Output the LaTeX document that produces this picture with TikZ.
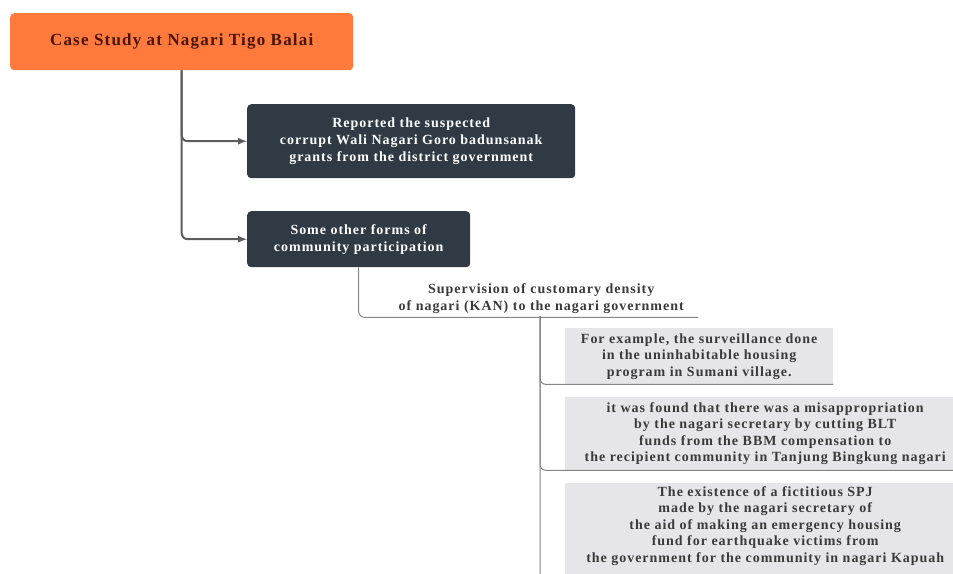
\documentclass[tikz,border=0pt]{standalone}
\usepackage{fontspec}
\setmainfont{Liberation Serif}[LetterSpace=7]
\usetikzlibrary{positioning}
\definecolor{rootorange}{HTML}{FF7A3C}
\definecolor{rootink}{HTML}{4A1400}
\definecolor{slatebox}{HTML}{2F3A44}
\definecolor{palefill}{HTML}{E6E6EA}
\definecolor{linkgray}{HTML}{5C5C5C}
\definecolor{textgray}{HTML}{3A3A3A}

\begin{document}
\begin{tikzpicture}[x=1pt,y=-1pt,
	rootbox/.style={fill=rootorange, rounded corners=4pt, anchor=north west, text=rootink, font=\bfseries\fontsize{17}{19}\selectfont},
	darkbox/.style={fill=slatebox, rounded corners=4pt, anchor=north west, text=white, align=center, font=\bfseries\fontsize{14}{17}\selectfont},
	palebox/.style={fill=palefill, anchor=north west, text=textgray, align=center, font=\bfseries\fontsize{14}{16.5}\selectfont},
	link/.style={draw=linkgray, line width=2pt, rounded corners=6pt},
	thinlink/.style={draw=linkgray!75, line width=1pt, rounded corners=6pt},
]
	\clip (0,0) rectangle (953,573);
	\useasboundingbox (0,0) rectangle (953,573);

	\node[rootbox, minimum width=343pt, minimum height=57pt] (root) at (10,13) {Case Study at Nagari Tigo Balai};

	\node[darkbox, minimum width=328pt, minimum height=74pt] (report) at (247,104) {Reported the suspected\\corrupt Wali Nagari Goro badunsanak\\grants from the district government};
	\node[darkbox, minimum width=223pt, minimum height=56pt] (other) at (247,211) {Some other forms of\\community participation};

	\node[anchor=north west, minimum width=314pt, minimum height=38pt, align=center, text=textgray, font=\bfseries\fontsize{14}{17}\selectfont] (superv) at (384,279) {Supervision of customary density\\of nagari (KAN) to the nagari government};

	\node[palebox, minimum width=268pt, minimum height=56pt] (exA) at (565,328) {For example, the surveillance done\\in the uninhabitable housing\\program in Sumani village.};
	\node[palebox, minimum width=400pt, minimum height=73pt] (exB) at (565,397) {it was found that there was a misappropriation\\by the nagari secretary by cutting BLT\\funds from the BBM compensation to\\the recipient community in Tanjung Bingkung nagari};
	\node[palebox, minimum width=400pt, anchor=north west] (exC) at (565,483) {The existence of a fictitious SPJ\\made by the nagari secretary of\\the aid of making an emergency housing\\fund for earthquake victims from\\the government for the community in nagari Kapuah\\\mbox{}};

	% branches from the case study
	\draw[link, -latex] (root.south) |- (report.west);
	\draw[link, -latex] (root.south) |- (other.west);

	% supervision and its examples
	\coordinate (trunk) at (540,316);
	\draw[thinlink] (other.south) |- (superv.south east);
	\draw[thinlink] (trunk) |- (exA.south east);
	\draw[thinlink] (trunk) |- (exB.south east);
	\draw[thinlink] (trunk) |- (exC.south east);
\end{tikzpicture}
\end{document}
